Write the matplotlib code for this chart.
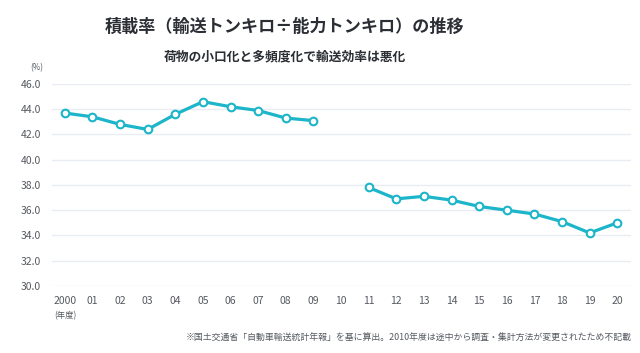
import matplotlib
matplotlib.use("Agg")
import matplotlib.pyplot as plt
import numpy as np

plt.rcParams['font.family'] = ['Noto Sans CJK JP', 'DejaVu Sans']

years = ["2000", "01", "02", "03", "04", "05", "06", "07", "08", "09", "10",
         "11", "12", "13", "14", "15", "16", "17", "18", "19", "20"]
rate_2000s = [43.7, 43.4, 42.8, 42.4, 43.6, 44.6, 44.2, 43.9, 43.3, 43.1]
rate_2010s = [37.8, 36.9, 37.1, 36.8, 36.3, 36.0, 35.7, 35.1, 34.2, 35.0]
yticks = [30.0, 32.0, 34.0, 36.0, 38.0, 40.0, 42.0, 44.0, 46.0]

title = "積載率（輸送トンキロ÷能力トンキロ）の推移"
subtitle = "荷物の小口化と多頻度化で輸送効率は悪化"
footnote = "※国土交通省「自動車輸送統計年報」を基に算出。2010年度は途中から調査・集計方法が変更されたため不記載"

line_color = "#1cb5c9"
grid_color = "#e9ecf3"
text_color = "#555a60"

fig = plt.figure(figsize=(6.4, 3.53), dpi=100)
ax = fig.add_axes([0.081, 0.19, 0.905, 0.572])

x1 = np.arange(0, len(rate_2000s))
x2 = np.arange(11, 11 + len(rate_2010s))
for xs, ys in [(x1, rate_2000s), (x2, rate_2010s)]:
    ax.plot(xs, ys, color=line_color, lw=2.3, marker='o', ms=5.5,
            markerfacecolor='white', markeredgecolor=line_color, mew=1.5,
            zorder=3, clip_on=False)

ax.set_xlim(-0.47, 20.5)
ax.set_ylim(30, 46)
ax.set_yticks(yticks)
ax.set_yticklabels([f"{v:.1f}" for v in yticks])
ax.set_xticks(np.arange(len(years)))
ax.set_xticklabels(years)
ax.tick_params(axis='both', length=0, labelsize=7.5, labelcolor=text_color)
ax.tick_params(axis='x', pad=7)
ax.tick_params(axis='y', pad=8)
ax.grid(axis='y', color=grid_color, lw=1.0)
ax.set_axisbelow(True)
for s in ax.spines.values():
    s.set_visible(False)

fig.text(0.445, 0.924, title, ha='center', va='center', fontsize=12.3,
         fontweight='bold', color='#2b2f35')
fig.text(0.445, 0.839, subtitle, ha='center', va='center', fontsize=9.2,
         fontweight='bold', color='#2b2f35')
fig.text(0.047, 0.808, "(%)", ha='left', va='center', fontsize=5.8, color=text_color)
fig.text(0.084, 0.105, "(年度)", ha='left', va='center', fontsize=6, color=text_color)
fig.text(0.987, 0.043, footnote, ha='right', va='center', fontsize=6.4, color=text_color)

fig.savefig("out.png", dpi=100, facecolor='white')
